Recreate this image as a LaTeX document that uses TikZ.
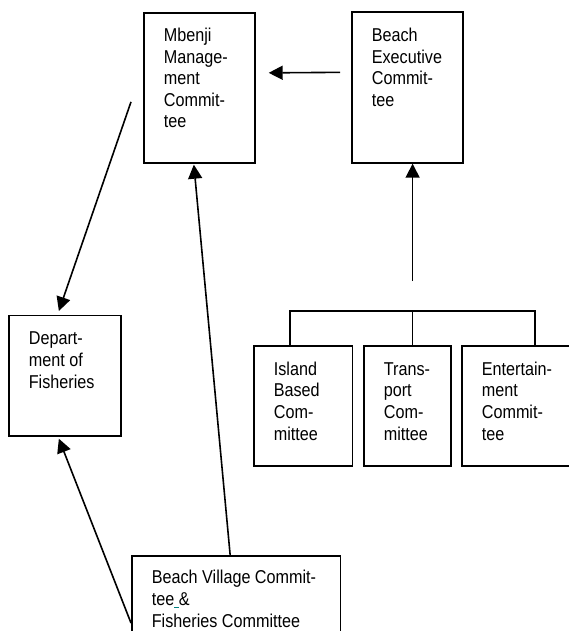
\documentclass[tikz,border=0pt]{standalone}
\usepackage{fontspec}
\setmainfont{Liberation Sans}[FakeStretch=0.87]
\usetikzlibrary{arrows.meta}

\newcommand{\committeetext}[4]{\parbox[t][#2][t]{#1}{\raggedright\leftskip=20pt\vspace*{#3}\strut #4}}

\begin{document}
\begin{tikzpicture}[x=1pt, y=-1pt,
        box/.style={draw, line width=1.7pt, inner sep=0pt, anchor=north west,
            font=\fontsize{18.6}{21.6}\selectfont},
        arr/.style={line width=1.6pt, -{Triangle[length=14pt, width=14pt]}}]
            \clip (0, 0) rectangle (569, 631);
            % committees
            \node[box] (mbe) at (143, 12) {\committeetext{111pt}{150pt}{13.5pt}{Mbenji\\Manage-\\ment\\Commit-\\tee}};
            \node[box] (bec) at (351, 11) {\committeetext{111pt}{151pt}{14.5pt}{Beach\\Executive\\Commit-\\tee}};
            \node[box] (dep) at (8, 314.5) {\committeetext{112pt}{120.5pt}{14.5pt}{Depart-\\ment of\\Fisheries}};
            \node[box] (isl) at (253, 345) {\committeetext{98.6pt}{120pt}{14.3pt}{Island\\Based\\Com-\\mittee}};
            \node[box] (tra) at (363, 345) {\committeetext{87pt}{120pt}{14.3pt}{Trans-\\port\\Com-\\mittee}};
            \node[box] (ent) at (461, 345) {\committeetext{112pt}{120pt}{14.3pt}{Entertain-\\ment\\Commit-\\tee}};
            \node[box] (bv) at (131, 555) {\committeetext{208.6pt}{110pt}{12.9pt}{Beach Village Commit-\\tee\textcolor{teal}{\underline{\ }}\&\\Fisheries Committee}};
            % bracket under the executive
            \coordinate (brL) at (290, 311);
            \coordinate (brM) at (412.6, 311);
            \coordinate (brR) at (535, 311);
            \coordinate (brUp) at (412.6, 281);
            \draw[line width=1.6pt] (isl.north -| brL) -- (brL) -- (brR) -- (ent.north -| brR);
            \draw[line width=1.6pt] (tra.north -| brM) -- (brM);
            \draw[arr] (brUp) -- (bec.south -| brUp);
            % reporting lines
            \draw[arr] ([xshift=-11pt, yshift=15pt]bec.west) -- ([xshift=13pt, yshift=15pt]mbe.east);
            \draw[arr] ([xshift=-12pt, yshift=-14pt]mbe.west) -- ([xshift=-6pt, yshift=3.5pt]dep.north);
            \draw[arr] ([xshift=-6pt]bv.north) -- ([xshift=-5.5pt, yshift=-1pt]mbe.south);
            \draw[arr] ([yshift=-68pt]bv.north west) -- ([xshift=-6pt, yshift=-2pt]dep.south);
        \end{tikzpicture}
\end{document}
